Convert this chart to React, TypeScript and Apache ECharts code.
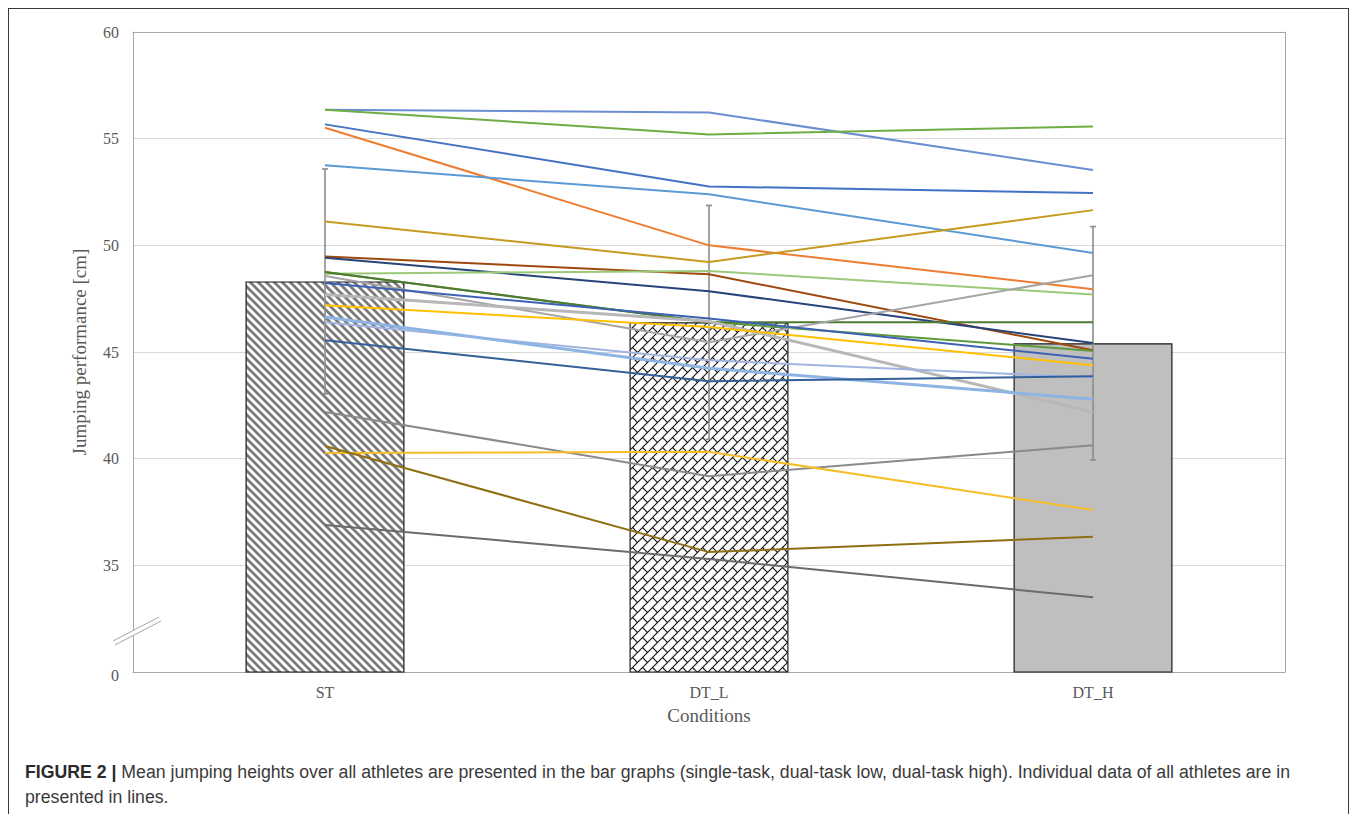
import React, { useEffect, useLayoutEffect, useRef, useState } from 'react';
import * as echarts from 'echarts';

// ---------- data ----------
const categories = ['ST', 'DT_L', 'DT_H'];
const meanValues = [48.31, 46.39, 45.41];
const sdValues = [5.27, 5.48, 5.47];
const breakTickLabel = '0';
const yMin = 30;
const yMax = 60;
const yStep = 5;

// individual athletes: value at ST, DT_L, DT_H
const athleteST = [56.36, 56.36, 55.67, 55.51, 53.75, 51.12, 49.48, 49.42, 48.67, 48.75, 48.75, 48.56, 48.23, 47.7, 47.19, 46.39, 46.64, 45.55, 42.19, 40.27, 40.59, 36.89];
const athleteDTL = [56.23, 55.2, 52.76, 50.0, 52.39, 49.22, 48.64, 47.85, 48.8, 46.41, 46.39, 45.46, 46.57, 46.44, 46.17, 44.61, 44.24, 43.63, 39.18, 40.32, 35.62, 35.3];
const athleteDTH = [53.53, 55.57, 52.45, 47.94, 49.64, 51.65, 45.08, 45.42, 47.69, 45.05, 46.39, 48.6, 44.68, 42.19, 44.38, 43.8, 42.79, 43.86, 40.63, 37.59, 36.34, 33.5];

// styles (kept separate from values)
const athleteColors = ['#6A8ED0', '#70AD47', '#4472C4', '#ED7D31', '#5B9BD5', '#C59B1F', '#9E480E', '#264478', '#9BC97A', '#5E9A3C', '#4E7A32', '#A5A5A5', '#3D62B3', '#B7B7B7', '#FFC000', '#A2B4E0', '#8DB4E2', '#34609A', '#8A8A8A', '#F5BE28', '#8F6F12', '#6B6B6B'];
const athleteWidths = [2, 2, 2, 2, 2, 2, 2, 2, 2, 2, 2, 2, 2, 3, 2, 2, 3, 2, 2, 2, 2, 2];

const SERIF = '"Liberation Serif", "Times New Roman", serif';
const SANS = '"Liberation Sans", Arial, sans-serif';

function makeStripes(): HTMLCanvasElement {
  const s = 8;
  const c = document.createElement('canvas');
  c.width = s;
  c.height = s;
  const g = c.getContext('2d')!;
  g.fillStyle = '#ffffff';
  g.fillRect(0, 0, s, s);
  g.strokeStyle = '#7a7a7a';
  g.lineWidth = 2.7;
  for (const o of [-s, 0, s]) {
    g.beginPath();
    g.moveTo(o - 2, -2);
    g.lineTo(o + s + 2, s + 2);
    g.stroke();
  }
  return c;
}

function makeBricks(): HTMLCanvasElement {
  const s = 10;
  const c = document.createElement('canvas');
  c.width = s;
  c.height = s;
  const g = c.getContext('2d')!;
  g.fillStyle = '#ffffff';
  g.fillRect(0, 0, s, s);
  g.strokeStyle = '#111111';
  g.lineWidth = 1.1;
  for (const k of [0, s, 2 * s]) {
    g.beginPath();
    g.moveTo(k + 2, -2);
    g.lineTo(k - s - 2, s + 2);
    g.stroke();
  }
  for (const dx of [-s, 0, s]) {
    for (const dy of [-s, 0, s]) {
      g.beginPath();
      g.moveTo(2.5 + dx, 7.5 + dy);
      g.lineTo(7.5 + dx, 12.5 + dy);
      g.stroke();
    }
  }
  return c;
}

function Chart() {
  const ref = useRef<HTMLDivElement>(null);
  useEffect(() => {
    if (!ref.current) return;
    const chart = echarts.init(ref.current, undefined, { renderer: 'svg' });
    const patterns: any[] = [
      { image: makeStripes(), repeat: 'repeat', imageWidth: 8, imageHeight: 8 },
      { image: makeBricks(), repeat: 'repeat', imageWidth: 10, imageHeight: 10 },
      '#BFBFBF',
    ];

    const lineSeries = athleteST.map((v, i) => ({
      type: 'line',
      name: 'Athlete ' + (i + 1),
      data: [v, athleteDTL[i], athleteDTH[i]],
      symbol: 'none',
      lineStyle: { color: athleteColors[i], width: athleteWidths[i] },
      itemStyle: { color: athleteColors[i] },
      z: 5,
      silent: true,
    }));

    const option: any = {
      animation: false,
      textStyle: { fontFamily: SERIF },
      grid: { left: 133, top: 32, width: 1152, height: 640 },
      xAxis: [
        {
          type: 'category',
          data: categories,
          axisLine: { lineStyle: { color: '#A6A6A6', width: 1 } },
          axisTick: { show: false },
          axisLabel: { color: '#595959', fontSize: 16, margin: 12, fontFamily: SERIF },
          name: 'Conditions',
          nameLocation: 'middle',
          nameGap: 34,
          nameTextStyle: { color: '#595959', fontSize: 19, fontFamily: SERIF },
        },
        {
          type: 'category',
          data: categories,
          position: 'top',
          axisLine: { show: true, lineStyle: { color: '#A6A6A6', width: 1 } },
          axisTick: { show: false },
          axisLabel: { show: false },
          splitLine: { show: false },
        },
      ],
      yAxis: [
        {
          type: 'value',
          min: yMin,
          max: yMax,
          interval: yStep,
          axisLine: { show: true, lineStyle: { color: '#A6A6A6', width: 1 } },
          axisTick: { show: false },
          splitLine: { lineStyle: { color: '#D9D9D9', width: 1 } },
          axisLabel: {
            color: '#595959',
            fontSize: 16,
            margin: 14,
            fontFamily: SERIF,
            formatter: (v: number) => (v === yMin ? '{z|' + breakTickLabel + '}' : String(v)),
            rich: { z: { color: '#595959', fontSize: 16, fontFamily: SERIF, padding: [6, 0, 0, 0] } },
          },
          name: 'Jumping performance [cm]',
          nameLocation: 'middle',
          nameGap: 44,
          nameTextStyle: { color: '#595959', fontSize: 19, fontFamily: SERIF },
        },
        {
          type: 'value',
          min: yMin,
          max: yMax,
          interval: yStep,
          position: 'right',
          axisLine: { show: true, lineStyle: { color: '#A6A6A6', width: 1 } },
          axisTick: { show: false },
          axisLabel: { show: false },
          splitLine: { show: false },
        },
      ],
      series: [
        {
          type: 'bar',
          name: 'Mean',
          data: meanValues.map((v, i) => ({ value: v, itemStyle: { color: patterns[i] } })),
          barWidth: '41.4%',
          itemStyle: { borderColor: '#1a1a1a', borderWidth: 1.2 },
          clip: true,
          z: 2,
          silent: true,
        },
        {
          type: 'custom',
          name: 'SD',
          data: meanValues.map((m, i) => [i, m - sdValues[i], m + sdValues[i]]),
          renderItem: (params: any, api: any) => {
            const x = api.value(0);
            const lo = api.coord([x, api.value(1)]);
            const hi = api.coord([x, api.value(2)]);
            const w = 3;
            const st = { stroke: '#8C8C8C', lineWidth: 1.6 };
            return {
              type: 'group',
              children: [
                { type: 'line', shape: { x1: lo[0], y1: lo[1], x2: hi[0], y2: hi[1] }, style: st },
                { type: 'line', shape: { x1: hi[0] - w, y1: hi[1], x2: hi[0] + w, y2: hi[1] }, style: st },
                { type: 'line', shape: { x1: lo[0] - w, y1: lo[1], x2: lo[0] + w, y2: lo[1] }, style: st },
              ],
            };
          },
          z: 3,
          silent: true,
        },
        ...lineSeries,
      ],
      graphic: [
        {
          type: 'polygon',
          shape: { points: [[113, 641], [159, 617], [161, 621], [115, 645]] },
          style: { fill: '#ffffff' },
          z: 100,
        },
        {
          type: 'line',
          shape: { x1: 113, y1: 641, x2: 159, y2: 617 },
          style: { stroke: '#A6A6A6', lineWidth: 1 },
          z: 101,
        },
        {
          type: 'line',
          shape: { x1: 115, y1: 645, x2: 161, y2: 621 },
          style: { stroke: '#A6A6A6', lineWidth: 1 },
          z: 101,
        },
      ],
    };
    chart.setOption(option);
    return () => chart.dispose();
  }, []);
  return <div ref={ref} style={{ position: 'absolute', left: 0, top: 0, width: 1357, height: 740 }} />;
}

export default function App() {
  const lineRef = useRef<HTMLSpanElement>(null);
  const [scale, setScale] = useState(1);
  useLayoutEffect(() => {
    if (lineRef.current) {
      const w = lineRef.current.getBoundingClientRect().width;
      if (w > 0) setScale(1265 / w);
    }
  }, []);
  return (
    <div style={{ position: 'absolute', left: 0, top: 0, width: 1357, height: 814, overflow: 'hidden', background: '#fff' }}>
      <div
        style={{
          position: 'absolute',
          left: 8,
          top: 8,
          width: 1341,
          height: 900,
          border: '1.5px solid #3a3a3a',
          boxSizing: 'border-box',
        }}
      />
      <Chart />
      <div
        style={{
          position: 'absolute',
          left: 25,
          top: 760,
          fontFamily: SANS,
          fontSize: 18,
          lineHeight: '25px',
          color: '#3a3a3a',
          whiteSpace: 'nowrap',
          transform: `scaleX(${scale})`,
          transformOrigin: 'left top',
        }}
      >
        <span ref={lineRef} style={{ display: 'inline-block' }}>
          <b style={{ color: '#2a2a2a' }}>FIGURE 2 |</b> Mean jumping heights over all athletes are presented in the bar graphs (single-task, dual-task low, dual-task high). Individual data of all athletes are in
        </span>
        <br />
        <span>presented in lines.</span>
      </div>
    </div>
  );
}
